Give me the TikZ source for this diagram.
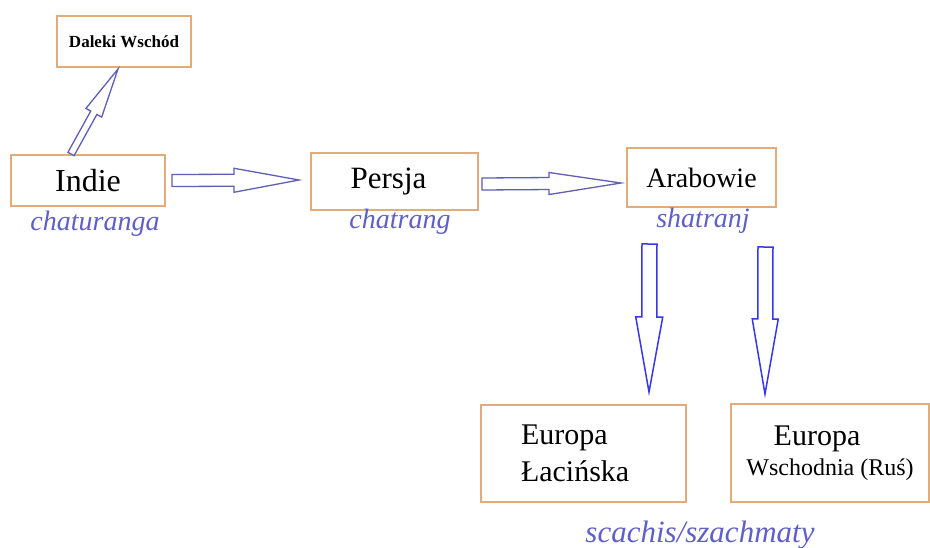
\documentclass[tikz,border=0pt]{standalone}
\usepackage{fontspec}
\setmainfont{Liberation Serif}
\usetikzlibrary{calc}
\definecolor{boxc}{RGB}{226,172,122}
\definecolor{arrc}{RGB}{95,95,180}
\definecolor{arrd}{RGB}{55,55,230}
\definecolor{labc}{RGB}{95,95,200}
\newcommand\blockarr[6]{%
  \coordinate (ba-s) at #2; \coordinate (ba-t) at #3;
  \coordinate (ba-h) at ($(ba-t)!#6!(ba-s)$);
  \draw[#1] ($(ba-s)!#4!90:(ba-t)$) -- ($(ba-h)!#4!-90:(ba-s)$) -- ($(ba-h)!#5!-90:(ba-s)$) -- (ba-t) -- ($(ba-h)!#5!90:(ba-s)$) -- ($(ba-h)!#4!90:(ba-s)$) -- ($(ba-s)!#4!-90:(ba-t)$) -- cycle;}
\begin{document}
\begin{tikzpicture}[x=1pt,y=-1pt,
  box/.style={draw=boxc, line width=2pt, fill=white, inner sep=0pt},
  lab/.style={text=labc, font=\fontsize{28}{30}\selectfont\itshape, anchor=base, inner sep=0pt},
  harrow/.style={draw=arrc, line width=1.3pt, fill=white, line join=miter},
  varrow/.style={draw=arrd, line width=1.5pt, fill=white, line join=miter}]
\useasboundingbox[fill=white] (0,0) rectangle (930,547);
\node[box, minimum width=134pt, minimum height=51pt, font=\fontsize{17}{20}\selectfont\bfseries] (daleki) at (124,41.5) {Daleki Wschód};
\node[box, minimum width=154pt, minimum height=51pt, font=\fontsize{32}{34}\selectfont] (indie) at (88,180.5) {Indie};
\node[box, minimum width=167pt, minimum height=57pt, font=\fontsize{31}{34}\selectfont] (persja) at (394.5,181.5) {\raisebox{3pt}{Persja}\kern12pt};
\node[box, minimum width=149pt, minimum height=59pt, font=\fontsize{28}{30}\selectfont] (arabowie) at (701.5,177.5) {Arabowie};
\node[box, minimum height=97pt, inner xsep=40pt, text width=125pt, align=left, font=\fontsize{30}{37}\selectfont] (europa1) at (583.5,453.5) {Europa\\Łacińska};
\node[box, minimum width=198pt, minimum height=98pt, align=center, font=\fontsize{30}{30}\selectfont] (europa2) at (830,453) {\raisebox{3pt}{Europa}\kern26pt\\[-3pt]\fontsize{24}{28}\selectfont Wschodnia (Ruś)};
\node[lab] (chaturanga) at (95,230) {chaturanga};
\node[lab] (chatrang) at (400,228) {chatrang};
\node[lab] (shatranj) at (703,227) {shatranj};
\node[lab, font=\fontsize{31}{33}\selectfont\itshape] (scachis) at (700,542) {scachis/szachmaty};
\blockarr{harrow}{($(indie.east)+(6,0)$)}{($(persja.west)+(-11,-1.5)$)}{6pt}{12pt}{65pt}
\blockarr{harrow}{($(persja.east)+(3,2.5)$)}{($(arabowie.west)+(-5,5.5)$)}{6pt}{11pt}{72pt}
\blockarr{harrow}{($(indie.north)+(-17,0)$)}{($(daleki.south)+(-6,1)$)}{3.5pt}{9pt}{50pt}
\blockarr{varrow}{($(arabowie.south)+(-52,36)$)}{($(europa1.north)+(65.5,-12)$)}{7.5pt}{13.5pt}{75pt}
\blockarr{varrow}{($(arabowie.south)+(64,39)$)}{($(europa2.north)+(-65,-9)$)}{7.5pt}{13pt}{75pt}
\end{tikzpicture}
\end{document}
